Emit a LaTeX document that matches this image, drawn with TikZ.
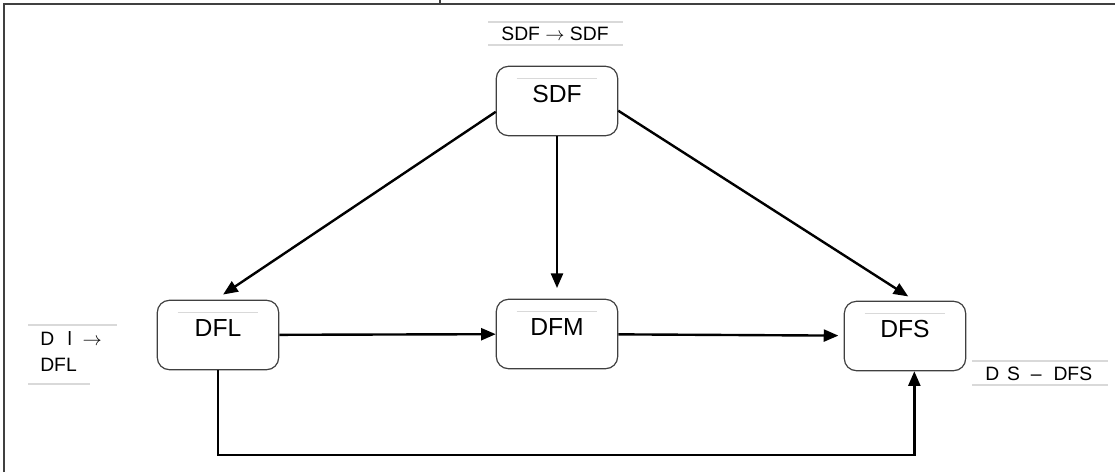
\documentclass[tikz,border=0pt]{standalone}
\usepackage{fontspec}
\setmainfont{Liberation Sans}
\usepackage{tikz}
\usetikzlibrary{arrows.meta,positioning,calc}

\tikzset{
  blok/.style={draw=black!75,line width=0.9pt,rounded corners=9pt,minimum width=91pt,
    minimum height=52pt,inner sep=0pt,text height=27pt,text depth=25pt,font=\fontsize{18.5}{21}\selectfont},
  tag/.style={inner sep=0pt,align=left,font=\fontsize{14.5}{19.5}\selectfont},
  rule/.style={draw=black!15,line width=0.8pt},
  flow/.style={line width=1.8pt,-{Triangle[length=11pt,width=9pt]}}
}

\begin{document}
\begin{tikzpicture}[x=0.75pt,y=-0.75pt]
  \useasboundingbox (0,0) rectangle (1115,472);
  % frame
  \draw[black!75,line width=1.5pt] (4,472) -- (4,4) -- (1115,4);
  \draw[black!75,line width=1pt] (440,0) -- (440,4);

  \node[blok] (sdf) at (557,101) {SDF};
  \node[blok] (dfl) at (218,335) {DFL};
  \node[blok] (dfm) at (557,334) {DFM};
  \node[blok] (dfs) at (905,336) {DFS};
  \foreach \n in {sdf,dfl,dfm,dfs}
    \draw[rule] ($(\n.north west)+(21,13)$) -- ($(\n.north east)+(-21,13)$);

  % side tags
  \node[tag] (tsdf) at (555,34) {SDF $\rightarrow$ SDF};
  \draw[rule] (488,22) -- (623,22);
  \draw[rule] (488,45) -- (623,45);
  \node[tag,anchor=north west] (tdfl) at (40,331) {D\hspace{10pt}l\hspace{8pt}$\rightarrow$\\DFL};
  \draw[rule] (28,325) -- (117,325);
  \draw[rule] (28,384) -- (90,384);
  \node[tag,anchor=west] (tdfs) at (985,374) {D\hspace{6pt}S\hspace{8pt}–\hspace{9pt}DFS};
  \draw[rule] (972,361) -- (1108,361);
  \draw[rule] (972,385) -- (1108,385);

  \coordinate (base) at (560,455);
  \draw[flow,shorten >=7pt] (sdf.190) -- ([xshift=-2pt]dfl.north);
  \draw[flow,shorten >=8pt] (sdf.south) -- (dfm.north);
  \draw[flow,shorten >=6pt] (sdf.-9) -- ([xshift=7.5pt]dfs.north);
  \draw[flow] (dfl) -- (dfm);
  \draw[flow,shorten >=4pt] (dfm) -- (dfs);
  \draw[flow] (dfl.south) |- (base) -| ([xshift=7pt]dfs.south);
\end{tikzpicture}
\end{document}
